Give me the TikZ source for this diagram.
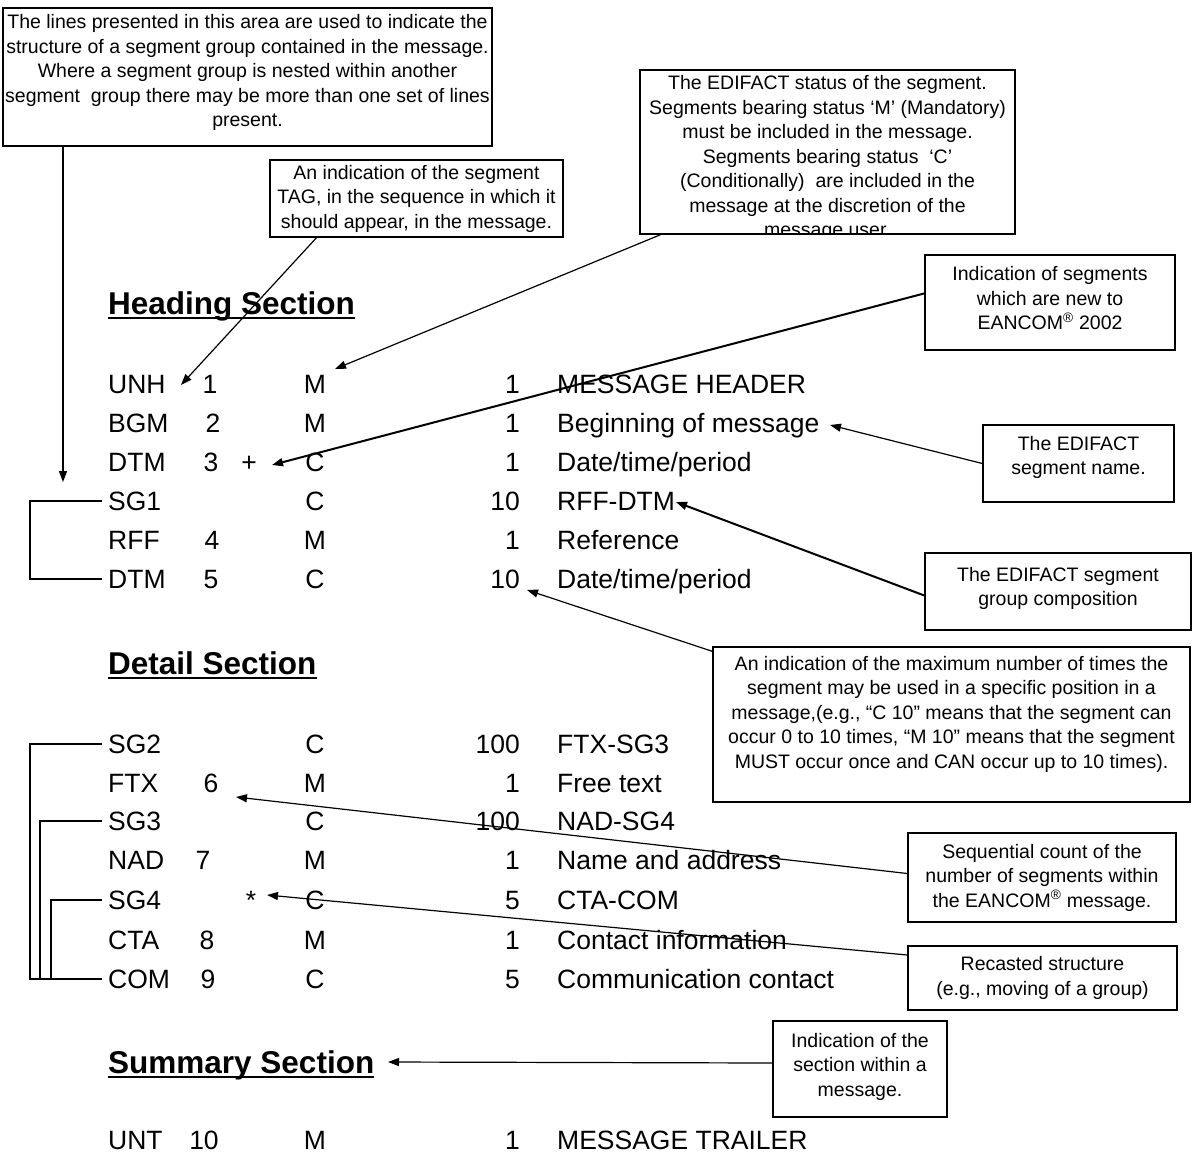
\documentclass[tikz,border=0pt]{standalone}
\usepackage{fontspec}
\setmainfont{Liberation Sans}
\usetikzlibrary{arrows.meta, positioning, calc}

\begin{document}
\begin{tikzpicture}[
    x=1pt, y=-1pt,
    note/.style={
        rectangle,
        draw,
        line width=1.4pt,
        align=center,
        inner sep=2pt,
        font=\fontsize{19.5}{24.5}\selectfont
    },
    cell/.style={
        inner sep=0pt,
        font=\fontsize{26.5}{30}\selectfont
    },
    sect/.style={
        inner sep=0pt,
        anchor=base west,
        font=\fontsize{31.5}{36}\selectfont\bfseries
    },
    pointer/.style={
        -{Triangle[length=11pt,width=8pt]},
        line width=1.2pt
    },
    thick_pointer/.style={
        pointer,
        line width=2pt
    },
    bracket/.style={
        line width=2pt
    }
]
\useasboundingbox (0,0) rectangle (1193,1156);

% Section headings
\node[sect] (hhead) at (108,314) {Heading Section};
\node[sect] (dhead) at (108,674) {Detail Section};
\node[sect] (shead) at (108,1073) {Summary Section};
\foreach \h in {hhead, dhead, shead}
    \draw[line width=2.5pt] ([yshift=-4pt]\h.base west) -- ([yshift=-4pt]\h.base east);

% Segment table
\foreach \id/\y/\tag/\num/\nx/\st/\rep/\name in {
    unh/393/UNH/1/210/M/1/{MESSAGE HEADER},
    bgm/432/BGM/2/213/M/1/{Beginning of message},
    dtma/471/DTM/3/211/C/1/{Date/time/period},
    sga/510/SG1/{}/211/C/10/RFF-DTM,
    rff/549/RFF/4/212/M/1/Reference,
    dtmb/588/DTM/5/211/C/10/{Date/time/period},
    sgb/753/SG2/{}/211/C/100/FTX-SG3,
    ftx/792/FTX/6/211/M/1/{Free text},
    sgc/830/SG3/{}/211/C/100/NAD-SG4,
    nad/869/NAD/7/203/M/1/{Name and address},
    sgd/909/SG4/{}/211/C/5/CTA-COM,
    cta/949/CTA/8/207/M/1/{Contact information},
    com/988/COM/9/208/C/5/{Communication contact},
    unt/1149/UNT/10/204/M/1/{MESSAGE TRAILER}
}{
    \node[cell, anchor=base west] (\id tag) at (108,\y) {\tag};
    \node[cell, anchor=base] (\id num) at (\nx,\y) {\num};
    \node[cell, anchor=base] (\id st) at (315,\y) {\st};
    \node[cell, anchor=base east] (\id rep) at (520,\y) {\rep};
    \node[cell, anchor=base west] (\id name) at (557,\y) {\name};
}
\node[cell, anchor=base] (newmark) at (249,471) {+};
\node[cell, anchor=base] (recastmark) at (251,909) {*};

% Group lines
\draw[bracket] ([xshift=-6pt]sgatag.west) -- ++(-72,0) |- ([xshift=-6pt]dtmbtag.west);
\draw[bracket] ([xshift=-6pt]sgbtag.west) -- ++(-72,0) |- ([xshift=-6pt]comtag.west);
\draw[bracket] ([xshift=-6pt]sgctag.west) -- ++(-62,0) |- ([xshift=-6pt]comtag.west);
\draw[bracket] ([xshift=-6pt]sgdtag.west) -- ++(-51,0) |- ([xshift=-6pt]comtag.west);

% Notes
\node[note, line width=1.6pt, minimum width=485, minimum height=138] (structure) at (247.5,77)
    {The lines presented in this area are used to indicate the\\
     structure of a segment group contained in the message.\\
     Where a segment group is nested within another\\
     segment\ \ group there may be more than one set of lines\\
     present.\\[-12pt]\mbox{}};
\node[note, minimum width=293, minimum height=77] (tagbox) at (416.5,198.5)
    {An indication of the segment\\
     TAG, in the sequence in which it\\
     should appear, in the message.};
\node[note, minimum width=375, minimum height=164] (status) at (827.5,152) {};
\begin{scope}
    \clip (status.north west) rectangle (status.south east);
    \node[note, draw=none, anchor=north] (statustext) at (827.5,73)
        {The EDIFACT status of the segment.\\
         Segments bearing status ‘M’ (Mandatory)\\
         must be included in the message.\\
         Segments bearing status\ \ ‘C’\\
         (Conditionally)\ \ are included in the\\
         message at the discretion of the\\
         message user.};
\end{scope}
\node[note, line width=2pt, minimum width=250, minimum height=95] (newseg) at (1050,302.5)
    {Indication of segments\\
     which are new to\\
     EANCOM\textsuperscript{®} 2002\\[-16pt]\mbox{}};
\node[note, minimum width=191, minimum height=77] (segname) at (1078.5,463.5)
    {The EDIFACT\\ segment name.\\[-8pt]\mbox{}};
\node[note, minimum width=266, minimum height=77] (grpcomp) at (1058,591.5)
    {The EDIFACT segment\\ group composition\\[-14pt]\mbox{}};
\node[note, minimum width=477, minimum height=155] (maxocc) at (951.5,724.5)
    {An indication of the maximum number of times the\\
     segment may be used in a specific position in a\\
     message,(e.g., “C 10” means that the segment can\\
     occur 0 to 10 times, “M 10” means that the segment\\
     MUST occur once and CAN occur up to 10 times).\\ \mbox{}};
\node[note, minimum width=268, minimum height=89] (seqcount) at (1042,877.5)
    {Sequential count of the\\
     number of segments within\\
     the EANCOM\textsuperscript{®} message.};
\node[note, minimum width=269, minimum height=64] (recast) at (1042.5,978)
    {Recasted structure\\ (e.g., moving of a group)};
\node[note, minimum width=174, minimum height=96] (sectbox) at (860,1069)
    {Indication of the\\ section within a\\ message.\\[-16pt]\mbox{}};

% Pointer ends
\coordinate (sgtip) at (63,482);
\coordinate (tagtip) at (181,385);
\coordinate (sttip) at (335,369);
\coordinate (newtip) at (272,465);
\coordinate (nametip) at (830,425);
\coordinate (comptip) at (676,502);
\coordinate (reptip) at (527,590);
\coordinate (seqtip) at (236,797);
\coordinate (recasttip) at (267,895);
\coordinate (secttip) at (388,1062);

% Pointers
\draw[pointer] (structure.south -| sgtip) -- (sgtip);
\draw[pointer] ([xshift=-100pt]tagbox.south) -- (tagtip);
\draw[pointer] ([xshift=-167pt]status.south) -- (sttip);
\draw[thick_pointer] ([yshift=9pt]newseg.west) -- (newtip);
\draw[pointer] (segname.west) -- (nametip);
\draw[thick_pointer] ([yshift=-4pt]grpcomp.west) -- (comptip);
\draw[pointer] ([yshift=-5pt]maxocc.north west) -- (reptip);
\draw[pointer] ([yshift=4pt]seqcount.west) -- (seqtip);
\draw[pointer] ([yshift=23pt]recast.west) -- (recasttip);
\draw[pointer] ([yshift=6pt]sectbox.west) -- (secttip);

\end{tikzpicture}
\end{document}
